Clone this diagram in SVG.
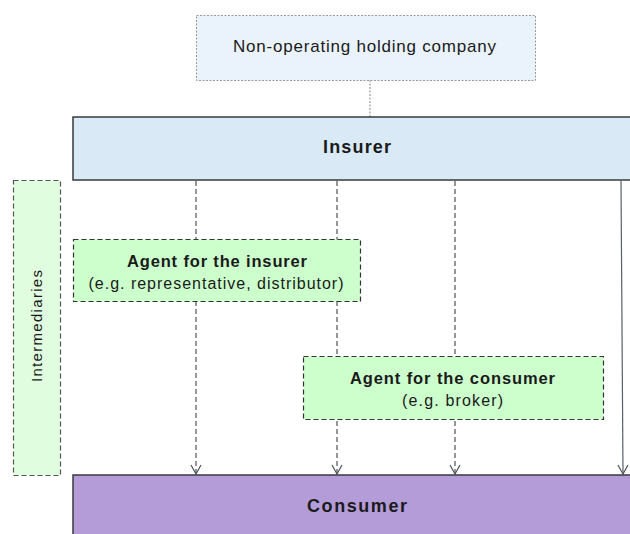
<svg xmlns="http://www.w3.org/2000/svg" width="630" height="534" viewBox="0 0 630 534">
<style>
text{font-family:"Liberation Sans",Arial,sans-serif;fill:#1a1a1a}
.b{font-weight:bold}
.dash{fill:none;stroke:#4d5458;stroke-width:1.2;stroke-dasharray:5,3}
.solid{fill:none;stroke:#5a6166;stroke-width:1.2}
</style>
<defs>
<marker id="v" viewBox="0 0 12 12" refX="11" refY="6" markerWidth="12" markerHeight="12" markerUnits="userSpaceOnUse" orient="auto">
<path d="M2,1 L11,6 L2,11" fill="none" stroke="#4d5458" stroke-width="1.2"/>
</marker>
</defs>
<rect width="630" height="534" fill="#ffffff"/>
<g id="connectors">
<line x1="370" y1="80" x2="370" y2="117" stroke="#999" stroke-width="1.2" stroke-dasharray="2,1.5"/>
<line class="dash" x1="196" y1="181" x2="196" y2="474" marker-end="url(#v)"/>
<line class="dash" x1="337" y1="181" x2="337" y2="474" marker-end="url(#v)"/>
<line class="dash" x1="455" y1="181" x2="455" y2="474" marker-end="url(#v)"/>
<line class="solid" x1="621" y1="181" x2="623" y2="474" marker-end="url(#v)"/>
</g>
<g id="holding">
<rect x="196.5" y="15.5" width="339" height="65" fill="#eaf3fb" stroke="#999" stroke-width="1" stroke-dasharray="2,1.5"/>
<text x="364.5" y="52" font-size="17" text-anchor="middle" textLength="263" lengthAdjust="spacing">Non-operating holding company</text>
</g>
<g id="insurer">
<rect x="73" y="117" width="570" height="63" fill="#d9e9f6" stroke="#3a3a3a" stroke-width="1.5"/>
<text class="b" x="357" y="153" font-size="18" text-anchor="middle" textLength="68" lengthAdjust="spacing">Insurer</text>
</g>
<g id="intermediaries">
<rect x="13.5" y="180.5" width="47" height="295" fill="#e0fde0" stroke="#555" stroke-width="1.2" stroke-dasharray="5,3"/>
<text x="0" y="0" font-size="15" text-anchor="middle" transform="translate(42,326) rotate(-90)" textLength="112" lengthAdjust="spacing">Intermediaries</text>
</g>
<g id="agent-insurer">
<rect x="73.5" y="239.5" width="287" height="62" fill="#ccffcc" stroke="#333" stroke-width="1.2" stroke-dasharray="5,3"/>
<text class="b" x="217" y="267" font-size="16.5" text-anchor="middle" textLength="180" lengthAdjust="spacing">Agent for the insurer</text>
<text x="216" y="289" font-size="16" text-anchor="middle" textLength="255" lengthAdjust="spacing">(e.g. representative, distributor)</text>
</g>
<g id="agent-consumer">
<rect x="303.5" y="356.5" width="300" height="63" fill="#ccffcc" stroke="#333" stroke-width="1.2" stroke-dasharray="5,3"/>
<text class="b" x="452.5" y="384" font-size="16.5" text-anchor="middle" textLength="205" lengthAdjust="spacing">Agent for the consumer</text>
<text x="452.5" y="406" font-size="16" text-anchor="middle" textLength="101" lengthAdjust="spacing">(e.g. broker)</text>
</g>
<g id="consumer">
<rect x="73" y="475" width="570" height="70" fill="#b49cd9" stroke="#3a3a3a" stroke-width="1.5"/>
<text class="b" x="357" y="512" font-size="18" text-anchor="middle" textLength="100" lengthAdjust="spacing">Consumer</text>
</g>
</svg>
